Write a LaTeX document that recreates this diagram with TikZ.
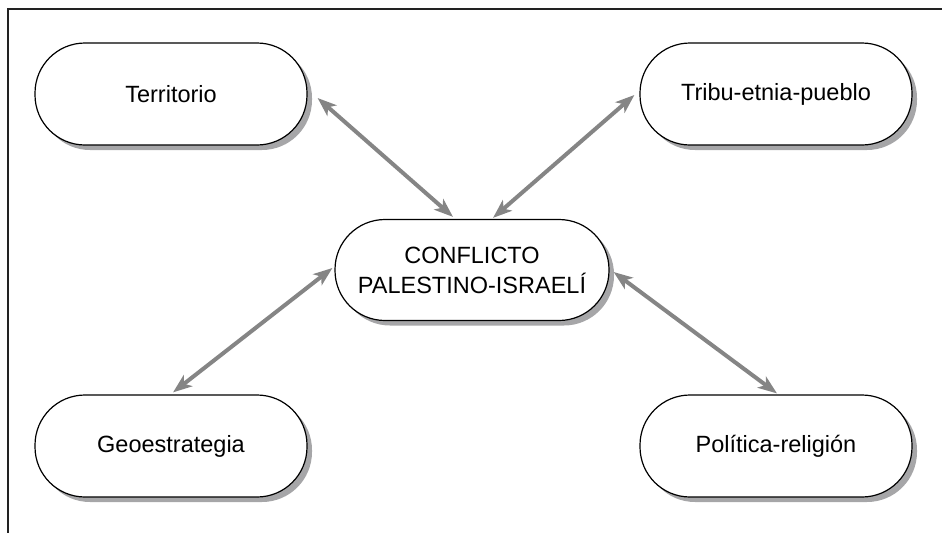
\documentclass[tikz,border=0pt]{standalone}
\usepackage{fontspec}
\setmainfont{Liberation Sans}
\usetikzlibrary{arrows.meta,shadows,calc}
\definecolor{arrowgray}{HTML}{858585}
\definecolor{shadowgray}{HTML}{A6A6A8}
\definecolor{framecol}{HTML}{222222}
\begin{document}
\begin{tikzpicture}[x=1pt,y=-1pt,
  stadium/.style={draw=black, line width=1.2pt, fill=white, rounded corners=50pt,
    minimum width=272pt, minimum height=102pt, inner sep=0pt,
    font=\fontsize{23.5}{30}\selectfont, align=center,
    drop shadow={shadow xshift=5pt, shadow yshift=-5pt, fill=shadowgray, opacity=1}},
  link/.style={arrowgray, line width=4pt,
    {Stealth[length=19pt,width=14pt,inset=5pt]}-{Stealth[length=19pt,width=14pt,inset=5pt]}}
]
\useasboundingbox (0,0) rectangle (942,533);
\draw[framecol, line width=2.4pt] (942,9) -- (8,9) -- (8,533);

\node[stadium] (terr) at (171,94) {Territorio};
\node[stadium] (trib) at (776,94) {Tribu-etnia-pueblo};
\node[stadium] (geo) at (171,446) {Geoestrategia};
\node[stadium] (pol) at (776,446) {Política-religión};
\node[stadium, minimum width=274pt, minimum height=101pt] (c) at (472,270) {CONFLICTO\\PALESTINO-ISRAELÍ};

\draw[link] ($(terr.east)+(10,4)$) -- ($(c.north)+(-19,-2)$);
\draw[link] ($(trib.west)+(-5,1)$) -- ($(c.north)+(21,-1)$);
\draw[link] ($(geo.north)+(2,-2)$) -- ($(c.west)+(-2,-2)$);
\draw[link] ($(c.east)+(4,2)$) -- ($(pol.north)+(1,-1)$);
\end{tikzpicture}
\end{document}
